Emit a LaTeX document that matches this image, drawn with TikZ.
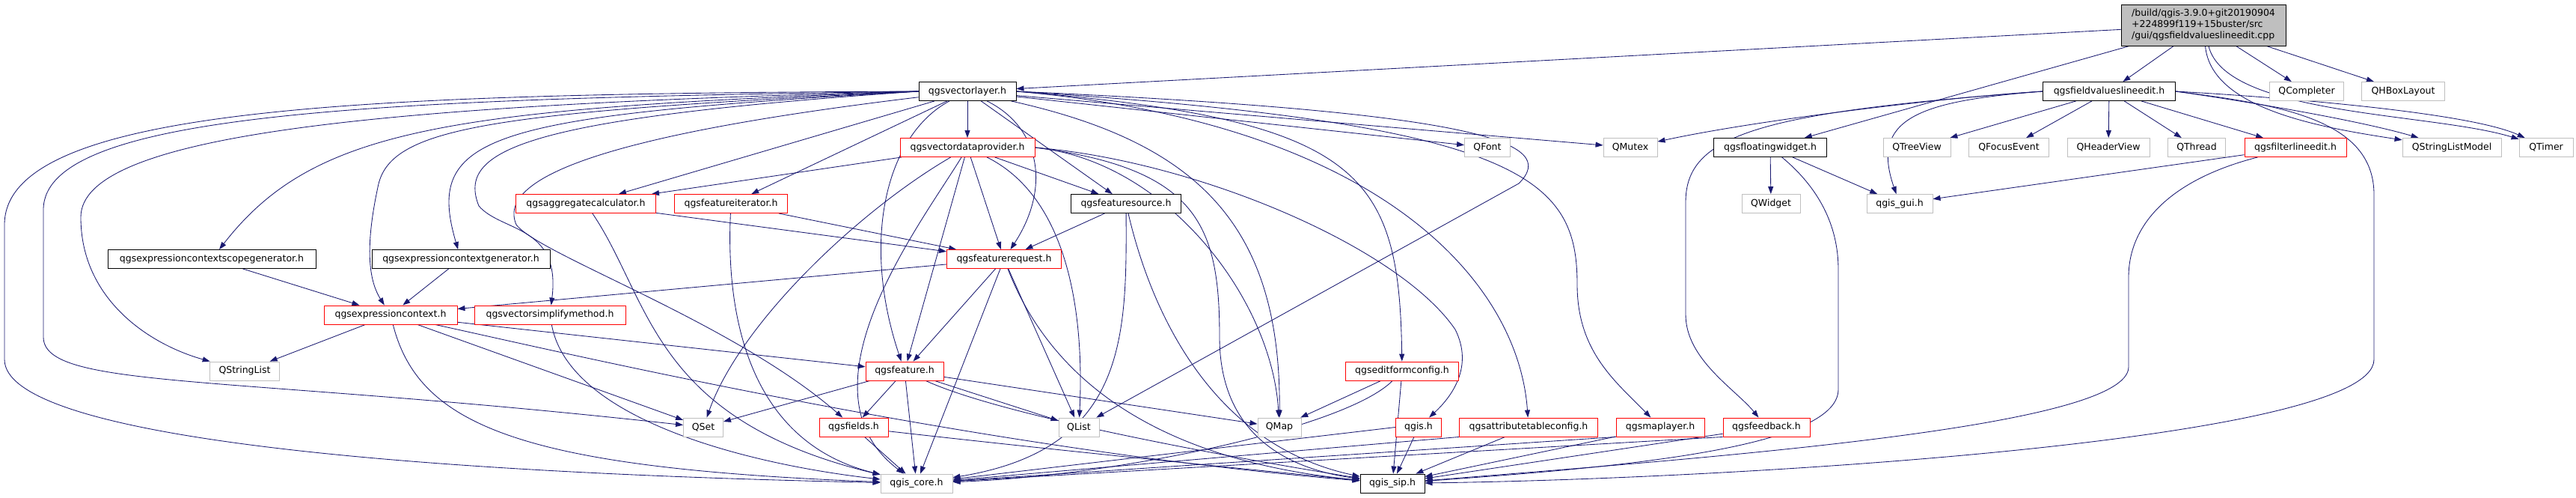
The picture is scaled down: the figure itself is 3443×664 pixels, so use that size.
\documentclass[tikz,border=0pt]{standalone}
\usepackage{fontspec}
\setmainfont{DejaVu Sans}
\usetikzlibrary{arrows.meta,backgrounds}
\definecolor{edgec}{HTML}{191970}
\definecolor{greyb}{HTML}{BFBFBF}
\begin{document}
\begin{tikzpicture}[x=1pt,y=-1pt,
  nb/.style={draw, line width=0.9pt, fill=white, minimum height=25pt, inner sep=0pt, font=\fontsize{12.5}{15}\selectfont, text=black},
  ext/.style={nb, draw=greyb},
  doc/.style={nb, draw=black},
  inc/.style={nb, draw=red},
  e/.style={draw=edgec, line width=0.85pt, -{Triangle[length=10pt,width=7pt]}}]
\useasboundingbox (0,0) rectangle (3443,664);
% row 0
\node[doc, fill=greyb, minimum width=220pt, minimum height=55pt, align=left] (root) at (2945,33.5) {/build/qgis-3.9.0+git20190904\\+224899f119+15buster/src\\/gui/qgsfieldvalueslineedit.cpp};
% row 1
\node[doc, minimum width=130pt] (vl) at (1293,122) {qgsvectorlayer.h};
\node[doc, minimum width=177pt] (fvle) at (2819,122) {qgsfieldvalueslineedit.h};
\node[ext, minimum width=99pt] (qcomp) at (3083,122) {QCompleter};
\node[ext, minimum width=111pt] (qhbox) at (3212,122) {QHBoxLayout};
% row 2
\node[inc, minimum width=180pt] (vdp) at (1293,197) {qgsvectordataprovider.h};
\node[ext, minimum width=61pt] (qfont) at (1988,197) {QFont};
\node[ext, minimum width=72pt] (qmutex) at (2179,197) {QMutex};
\node[doc, minimum width=151pt] (fw) at (2366,197) {qgsfloatingwidget.h};
\node[ext, minimum width=90pt] (qtree) at (2562,197) {QTreeView};
\node[ext, minimum width=107pt] (qfocus) at (2685,197) {QFocusEvent};
\node[ext, minimum width=110pt] (qheader) at (2818,197) {QHeaderView};
\node[ext, minimum width=77pt] (qthread) at (2936,197) {QThread};
\node[inc, minimum width=136pt] (fle) at (3068,197) {qgsfilterlineedit.h};
\node[ext, minimum width=132pt] (qslm) at (3277,197) {QStringListModel};
\node[ext, minimum width=72pt] (qtimer) at (3403,197) {QTimer};
% row 3
\node[inc, minimum width=187pt] (agg) at (783,272) {qgsaggregatecalculator.h};
\node[inc, minimum width=151pt] (fiter) at (977,272) {qgsfeatureiterator.h};
\node[doc, minimum width=147pt] (fsrc) at (1505,272) {qgsfeaturesource.h};
\node[ext, minimum width=78pt] (qwidget) at (2367,272) {QWidget};
\node[ext, minimum width=88pt] (qgui) at (2539,272) {qgis\_gui.h};
% row 4
\node[doc, minimum width=278pt] (scopegen) at (283,346) {qgsexpressioncontextscopegenerator.h};
\node[doc, minimum width=238pt] (ctxgen) at (616,346) {qgsexpressioncontextgenerator.h};
\node[inc, minimum width=153pt] (freq) at (1342,346) {qgsfeaturerequest.h};
% row 5
\node[inc, minimum width=178pt] (ctx) at (522,420.5) {qgsexpressioncontext.h};
\node[inc, minimum width=202pt] (simp) at (735,420.5) {qgsvectorsimplifymethod.h};
% row 6
\node[ext, minimum width=93pt] (qsl) at (327,495.5) {QStringList};
\node[inc, minimum width=104pt] (feat) at (1209,495.5) {qgsfeature.h};
\node[inc, minimum width=151pt] (efc) at (1874,495.5) {qgseditformconfig.h};
% row 7
\node[ext, minimum width=53pt] (qset) at (940,570.5) {QSet};
\node[inc, minimum width=92pt] (fields) at (1141,570.5) {qgsfields.h};
\node[ext, minimum width=54pt] (qlist) at (1442,570.5) {QList};
\node[ext, minimum width=58pt] (qmap) at (1710,570.5) {QMap};
\node[inc, minimum width=61pt] (qgish) at (1896,570.5) {qgis.h};
\node[inc, minimum width=185pt] (atc) at (2043,570.5) {qgsattributetableconfig.h};
\node[inc, minimum width=118pt] (ml) at (2219,570.5) {qgsmaplayer.h};
\node[inc, minimum width=116pt] (fb) at (2361,570.5) {qgsfeedback.h};
% row 8
\node[ext, minimum width=96pt] (core) at (1225,645.5) {qgis\_core.h};
\node[doc, minimum width=86pt] (sip) at (1861,645.5) {qgis\_sip.h};

\begin{scope}[on background layer]
% root
\draw[e] (root) -- (vl);
\draw[e] (root) -- (fvle);
\draw[e] (root) -- (fw);
\draw[e] (root) -- (qcomp);
\draw[e] (root) -- (qhbox);
\draw[e] (root) .. controls (2955,145) and (3100,170) .. (qslm);
\draw[e] (root) .. controls (2975,155) and (3250,150) .. (qtimer);
% fvle
\draw[e] (fvle) -- (qtree);
\draw[e] (fvle) -- (qfocus);
\draw[e] (fvle) -- (qheader);
\draw[e] (fvle) -- (qthread);
\draw[e] (fvle) -- (fle);
\draw[e] (fvle.east) .. controls (3000,135) and (3150,160) .. (qslm);
\draw[e] (fvle.east) .. controls (3050,130) and (3300,150) .. (qtimer);
\draw[e] (fvle.west) .. controls (2600,130) and (2350,160) .. (qmutex);
\draw[e] (fvle.west) .. controls (2560,135) and (2500,160) .. (qgui);
\draw[e] (fvle.west) .. controls (2350,150) and (2253,180) .. (2253,270) -- (2253,420) .. controls (2253,480) and (2320,520) .. (fb);
\draw[e] (fvle.east) .. controls (3050,140) and (3173,160) .. (3173,260) -- (3173,480) .. controls (3173,590) and (2300,640) .. (sip);
% fw, fle
\draw[e] (fw) -- (qwidget);
\draw[e] (fw) -- (qgui);
\draw[e] (fw) .. controls (2430,250) and (2457,300) .. (2457,360) -- (2457,520) .. controls (2457,600) and (2150,625) .. (sip);
\draw[e] (fle) -- (qgui);
\draw[e] (fle) .. controls (2900,240) and (2845,300) .. (2845,370) -- (2845,490) .. controls (2845,570) and (2300,610) .. (sip);
% vl
\draw[e] (vl) -- (vdp);
\draw[e] (vl) -- (qfont);
\draw[e] (vl) -- (qmutex);
\draw[e] (vl) -- (agg);
\draw[e] (vl) -- (fiter);
\draw[e] (vl) -- (fsrc);
\draw[e] (vl) .. controls (1390,170) and (1405,250) .. (freq);
\draw[e] (vl) .. controls (1185,180) and (1150,320) .. (feat);
\draw[e] (vl) .. controls (1600,190) and (1712,300) .. (qmap);
\draw[e] (vl.east) .. controls (1980,150) and (2085,190) .. (2030,245) -- (qlist);
\draw[e] (vl.east) .. controls (1820,160) and (1870,230) .. (efc);
\draw[e] (vl.east) .. controls (1850,165) and (2030,380) .. (atc);
\draw[e] (vl.east) .. controls (2040,165) and (2108,240) .. (2108,380) .. controls (2108,470) and (2160,510) .. (ml);
\draw[e] (vl.west) .. controls (500,125) and (6,140) .. (6,300) -- (6,480) .. controls (6,580) and (500,630) .. (core);
\draw[e] (vl.west) .. controls (500,132) and (58,150) .. (58,280) -- (58,450) .. controls (58,520) and (300,500) .. (qset);
\draw[e] (vl.west) .. controls (500,140) and (108,180) .. (108,290) .. controls (108,400) and (200,460) .. (qsl);
\draw[e] (vl.west) .. controls (600,145) and (420,170) .. (scopegen);
\draw[e] (vl.west) .. controls (650,150) and (520,170) .. (505,250) .. controls (490,320) and (490,370) .. (ctx);
\draw[e] (vl.west) .. controls (650,155) and (567,180) .. (ctxgen);
\draw[e] (vl.west) .. controls (700,158) and (610,200) .. (640,275) .. controls (670,310) and (750,300) .. (simp);
\draw[e] (vl) .. controls (850,175) and (660,230) .. (690,300) .. controls (720,340) and (980,430) .. (fields);
% vdp
\draw[e] (vdp) -- (agg);
\draw[e] (vdp) -- (freq);
\draw[e] (vdp) -- (fsrc);
\draw[e] (vdp) -- (feat);
\draw[e] (vdp) .. controls (1150,280) and (990,430) .. (qset);
\draw[e] (vdp) .. controls (1230,300) and (1060,520) .. (core);
\draw[e] (vdp) .. controls (1420,260) and (1450,400) .. (qlist);
\draw[e] (vdp.east) .. controls (1560,215) and (1700,400) .. (qmap);
\draw[e] (vdp.east) .. controls (1600,225) and (1630,300) .. (1630,450) .. controls (1630,600) and (1750,630) .. (sip);
\draw[e] (vdp.east) .. controls (1600,215) and (1870,330) .. (1945,440) .. controls (1970,490) and (1940,530) .. (qgish);
% agg, fiter, fsrc
\draw[e] (agg) -- (freq);
\draw[e] (agg) .. controls (870,400) and (870,560) .. (core);
\draw[e] (fiter) -- (freq);
\draw[e] (fiter) .. controls (970,420) and (1000,590) .. (core);
\draw[e] (fsrc) -- (freq);
\draw[e] (fsrc) .. controls (1506,450) and (1506,600) .. (core);
\draw[e] (fsrc) .. controls (1530,380) and (1600,590) .. (sip);
% freq
\draw[e] (freq) -- (ctx);
\draw[e] (freq) -- (feat);
\draw[e] (freq) -- (qlist);
\draw[e] (freq) -- (core);
\draw[e] (freq) .. controls (1390,470) and (1500,610) .. (sip);
% generators, ctx, simp
\draw[e] (scopegen) -- (ctx);
\draw[e] (ctxgen) -- (ctx);
\draw[e] (ctx) -- (qsl);
\draw[e] (ctx) -- (feat);
\draw[e] (ctx) -- (qset);
\draw[e] (ctx) .. controls (560,570) and (700,625) .. (core);
\draw[e] (ctx) .. controls (750,470) and (1300,600) .. (sip);
\draw[e] (simp) .. controls (760,560) and (1000,620) .. (core);
% feat, fields
\draw[e] (feat) -- (qset);
\draw[e] (feat) -- (fields);
\draw[e] (feat) -- (qlist);
\draw[e] (feat) -- (qmap);
\draw[e] (feat) -- (core);
\draw[e] (feat) .. controls (1350,560) and (1700,620) .. (sip);
\draw[e] (fields) -- (core);
\draw[e] (fields) .. controls (1400,600) and (1700,630) .. (sip);
% lower right
\draw[e] (efc) -- (qmap);
\draw[e] (efc) .. controls (1800,570) and (1500,635) .. (core);
\draw[e] (efc) -- (sip);
\draw[e] (qgish.west) -- (core);
\draw[e] (qgish) -- (sip);
\draw[e] (atc.south west) -- (core);
\draw[e] (atc) -- (sip);
\draw[e] (ml.south west) -- (core);
\draw[e] (ml) -- (sip);
\draw[e] (fb.south west) -- (core);
\draw[e] (fb) -- (sip);
\end{scope}
\end{tikzpicture}
\end{document}
